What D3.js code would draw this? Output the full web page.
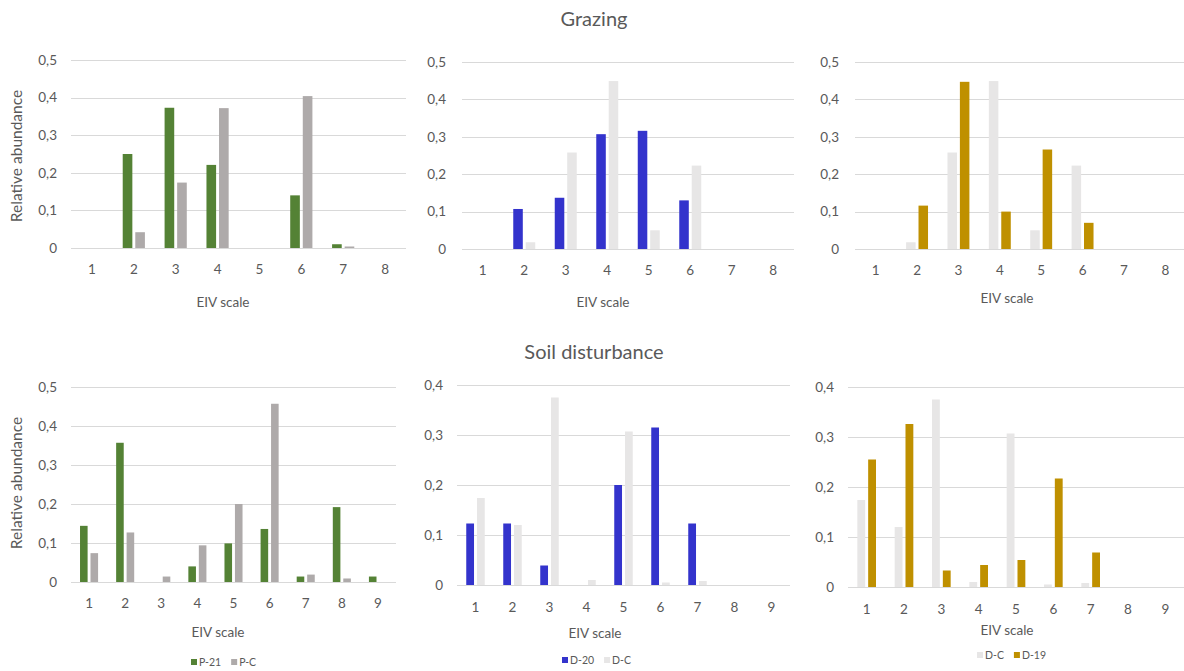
<!DOCTYPE html>
<html lang="en">
<head>
<meta charset="UTF-8">
<title>EIV scale - grazing and soil disturbance</title>
<style>
  body { margin: 0; background: #fff; }
  svg text { font-family: Lato, "Open Sans", sans-serif; fill: #595959; }
  .grid line { stroke: #d9d9d9; stroke-width: 1; }
</style>
</head>
<body>
<svg id="chart" width="1184" height="671"></svg>
<script src="https://d3js.org/d3.v7.min.js"></script>
<script>
// EIV classes
var eiv8 = ["1", "2", "3", "4", "5", "6", "7", "8"];
var eiv9 = ["1", "2", "3", "4", "5", "6", "7", "8", "9"];

// Grazing
var grazP21 = [0, 0.250, 0.373, 0.221, 0, 0.140, 0.010, 0];
var grazPC  = [0, 0.042, 0.174, 0.372, 0, 0.404, 0.004, 0];
var grazD20 = [0, 0.107, 0.137, 0.307, 0.316, 0.130, 0, 0];
var grazDC  = [0, 0.018, 0.258, 0.449, 0.050, 0.223, 0, 0];
var grazD19 = [0, 0.116, 0.447, 0.100, 0.266, 0.070, 0, 0];

// Soil disturbance
var soilP21 = [0.144, 0.357, 0, 0.040, 0.099, 0.136, 0.014, 0.192, 0.014];
var soilPC  = [0.074, 0.127, 0.014, 0.094, 0.200, 0.457, 0.019, 0.009, 0];
var soilD20 = [0.123, 0.123, 0.039, 0, 0.200, 0.315, 0.123, 0, 0];
var soilDC  = [0.174, 0.120, 0.375, 0.010, 0.307, 0.005, 0.008, 0, 0];
var soilD19 = [0.255, 0.326, 0.033, 0.044, 0.054, 0.217, 0.069, 0, 0];

var yTicks05 = [0, 0.1, 0.2, 0.3, 0.4, 0.5];
var yTicks04 = [0, 0.1, 0.2, 0.3, 0.4];

var colGreen = "#548235", colGray = "#aeaaaa", colBlue = "#3333cc",
    colLight = "#e7e6e6", colGold = "#bf9000";

var svg = d3.select("#chart");
var fmt = function(d) { return d === 0 ? "0" : d3.format(".1f")(d).replace(".", ","); };

function drawPanel(p) {
  var g = svg.append("g");
  var x = d3.scaleBand().domain(p.cats).range([p.x0, p.x1]);
  var y = d3.scaleLinear().domain([0, p.ymax]).range([p.yBase, p.yTop]);

  // gridlines
  g.append("g").attr("class", "grid")
    .selectAll("line").data(p.ticks).join("line")
    .attr("x1", p.x0).attr("x2", p.x1)
    .attr("y1", function(d) { return Math.round(y(d)) + 0.5; })
    .attr("y2", function(d) { return Math.round(y(d)) + 0.5; });

  // y axis labels
  var yAxis = d3.axisLeft(y).tickValues(p.ticks).tickFormat(fmt).tickSize(0).tickPadding(0);
  var ya = g.append("g").attr("transform", "translate(" + p.yLabX + ",0)").call(yAxis);
  ya.select(".domain").remove();
  ya.selectAll("text").style("font-size", "13.5px").attr("fill", null);

  // x axis labels
  var xAxis = d3.axisBottom(x).tickSize(0).tickPadding(0);
  var xa = g.append("g").attr("transform", "translate(0," + p.xLabY + ")").call(xAxis);
  xa.select(".domain").remove();
  xa.selectAll("text").style("font-size", "13.5px").attr("fill", null);

  // bars
  var bw = x.bandwidth() * p.barFrac, gap = x.bandwidth() * p.gapFrac;
  p.series.forEach(function(s, i) {
    var off = x.bandwidth() / 2 - bw - gap / 2 + i * (bw + gap);
    g.append("g").selectAll("rect").data(s.values).join("rect")
      .attr("x", function(d, j) { return x(p.cats[j]) + off; })
      .attr("width", bw)
      .attr("y", function(d) { return y(d); })
      .attr("height", function(d) { return y(0) - y(d); })
      .attr("fill", s.color);
  });

  // x title
  g.append("text").attr("x", p.xTitleX).attr("y", p.xTitleY)
    .attr("text-anchor", "middle").style("font-size", "13.5px").text("EIV scale");

  // y title
  if (p.yTitle) {
    g.append("text")
      .attr("transform", "translate(" + p.yTitleX + "," + p.yTitleY + ") rotate(-90)")
      .attr("text-anchor", "middle").style("font-size", "15.5px").text("Relative abundance");
  }

  // legend
  if (p.legendY) {
    var lg = g.append("g").attr("transform", "translate(" + p.legendX + "," + p.legendY + ")");
    var cx = 0;
    p.series.forEach(function(s) {
      lg.append("rect").attr("x", cx).attr("y", -7).attr("width", 6).attr("height", 6).attr("fill", s.color);
      var t = lg.append("text").attr("x", cx + 8).attr("y", 0).style("font-size", "10.5px").text(s.name);
      cx += 8 + t.node().getComputedTextLength() + 10;
    });
  }
}

var panels = [
  { cats: eiv8, ymax: 0.5, ticks: yTicks05, x0: 71, x1: 406, yTop: 60, yBase: 248,
    yLabX: 57, xLabY: 264, xTitleX: 223, xTitleY: 307, yTitle: true, yTitleX: 22, yTitleY: 156,
    barFrac: 0.23, gapFrac: 0.07,
    series: [{ name: "P-21", values: grazP21, color: colGreen }, { name: "P-C", values: grazPC, color: colGray }] },
  { cats: eiv8, ymax: 0.5, ticks: yTicks05, x0: 462, x1: 794, yTop: 62, yBase: 249,
    yLabX: 446, xLabY: 265, xTitleX: 603, xTitleY: 307,
    barFrac: 0.23, gapFrac: 0.07,
    series: [{ name: "D-20", values: grazD20, color: colBlue }, { name: "D-C", values: grazDC, color: colLight }] },
  { cats: eiv8, ymax: 0.5, ticks: yTicks05, x0: 855, x1: 1186, yTop: 62, yBase: 249,
    yLabX: 839, xLabY: 265, xTitleX: 1007, xTitleY: 303,
    barFrac: 0.23, gapFrac: 0.07,
    series: [{ name: "D-C", values: grazDC, color: colLight }, { name: "D-19", values: grazD19, color: colGold }] },
  { cats: eiv9, ymax: 0.5, ticks: yTicks05, x0: 71, x1: 396, yTop: 387, yBase: 582,
    yLabX: 57, xLabY: 598, xTitleX: 218, xTitleY: 637, yTitle: true, yTitleX: 22, yTitleY: 483,
    barFrac: 0.21, gapFrac: 0.08, legendX: 191, legendY: 666,
    series: [{ name: "P-21", values: soilP21, color: colGreen }, { name: "P-C", values: soilPC, color: colGray }] },
  { cats: eiv9, ymax: 0.4, ticks: yTicks04, x0: 457, x1: 790, yTop: 385, yBase: 585,
    yLabX: 443, xLabY: 602, xTitleX: 595, xTitleY: 638,
    barFrac: 0.21, gapFrac: 0.08, legendX: 562, legendY: 664,
    series: [{ name: "D-20", values: soilD20, color: colBlue }, { name: "D-C", values: soilDC, color: colLight }] },
  { cats: eiv9, ymax: 0.4, ticks: yTicks04, x0: 848, x1: 1184, yTop: 387, yBase: 587,
    yLabX: 834, xLabY: 604, xTitleX: 1007, xTitleY: 635,
    barFrac: 0.21, gapFrac: 0.08, legendX: 977, legendY: 659,
    series: [{ name: "D-C", values: soilDC, color: colLight }, { name: "D-19", values: soilD19, color: colGold }] }
];

panels.forEach(drawPanel);

// row titles
svg.append("text").attr("x", 594).attr("y", 26).attr("text-anchor", "middle")
  .style("font-size", "20px").text("Grazing");
svg.append("text").attr("x", 594).attr("y", 359).attr("text-anchor", "middle")
  .style("font-size", "20px").text("Soil disturbance");
</script>
</body>
</html>
